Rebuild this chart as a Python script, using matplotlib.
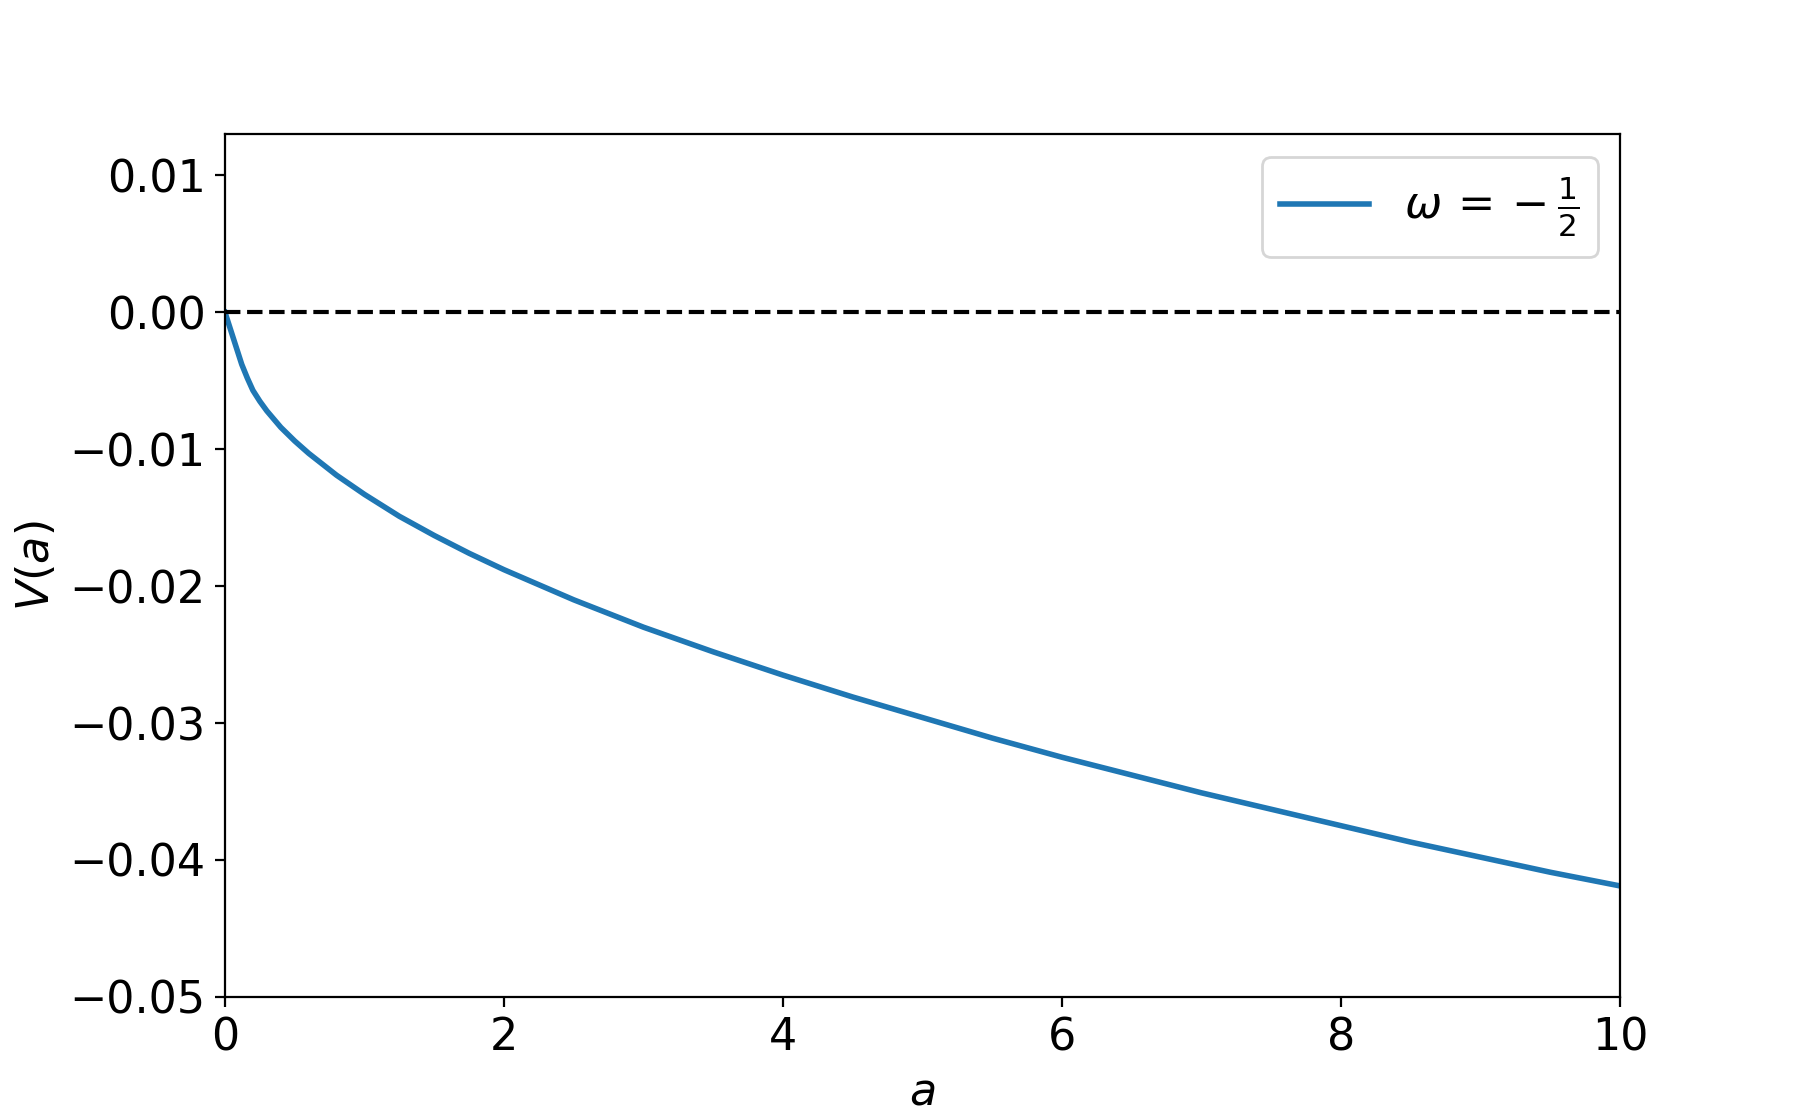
import matplotlib
matplotlib.use("Agg")
import matplotlib.pyplot as plt
import numpy as np

# values
a_vals = [0.0, 0.12, 0.16, 0.2, 0.25, 0.3, 0.35, 0.4, 0.45, 0.5, 0.6, 0.7,
          0.8, 0.9, 1.0, 1.25, 1.5, 1.75, 2.0, 2.25, 2.5, 2.75, 3.0, 3.5,
          4.0, 4.5, 5.0, 5.5, 6.0, 6.5, 7.0, 7.5, 8.0, 8.5, 9.0, 9.5, 10.0]
V_vals = [0.0, -0.0038, -0.0048, -0.0057, -0.0065, -0.0072, -0.0078,
          -0.0084, -0.0089, -0.0094, -0.0103, -0.0111, -0.0119, -0.0126,
          -0.0133, -0.0149, -0.0163, -0.0176, -0.0188, -0.0199, -0.0210,
          -0.0220, -0.0230, -0.0248, -0.0265, -0.0281, -0.0296, -0.0311,
          -0.0325, -0.0338, -0.0351, -0.0363, -0.0375, -0.0387, -0.0398,
          -0.0409, -0.0419]
label = r"$\omega\, = {}-\frac{1}{2}$"

plt.rcParams['font.size'] = 16

fig, ax = plt.subplots(figsize=(9, 5.6), dpi=200)
ax.plot(a_vals, V_vals, color='#1f77b4', lw=2, label=label)
ax.axhline(0, color='k', linestyle='--', lw=1.5)
ax.set_xlim(0, 10)
ax.set_ylim(-0.05, 0.013)
ax.set_yticks([0.01, 0.0, -0.01, -0.02, -0.03, -0.04, -0.05])
ax.set_xlabel(r"$a$")
ax.set_ylabel(r"$V(a)$")
ax.legend(loc='upper right')

fig.savefig("out.png", dpi=200)
